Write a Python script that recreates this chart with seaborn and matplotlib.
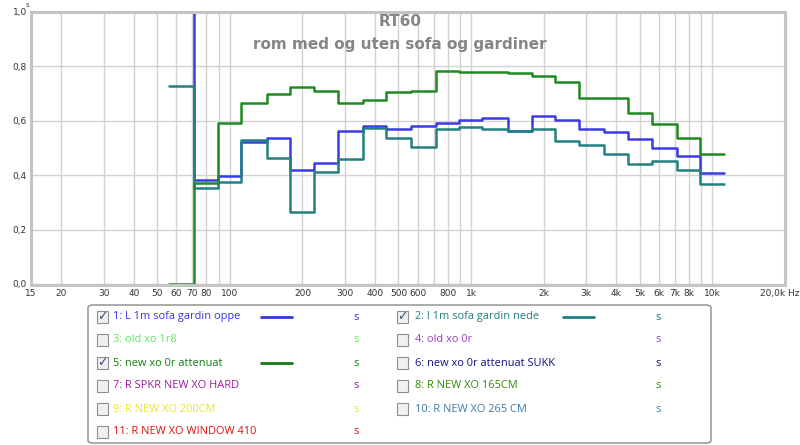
import matplotlib
matplotlib.use("Agg")
import matplotlib.pyplot as plt
import matplotlib.transforms as mtransforms
from matplotlib.patches import FancyBboxPatch, Rectangle
from matplotlib.lines import Line2D
import numpy as np
import pandas as pd
import seaborn as sns

# 1/3-octave band centres (Hz)
bands = [63, 80, 100, 125, 160, 200, 250, 315, 400, 500, 630, 800,
         1000, 1250, 1600, 2000, 2500, 3150, 4000, 5000, 6300, 8000, 10000]

# RT60 per band (s)
rt_oppe = [1.60, 0.382, 0.397, 0.523, 0.535, 0.419, 0.443, 0.562, 0.582, 0.571, 0.579, 0.590,
           0.601, 0.612, 0.564, 0.619, 0.601, 0.568, 0.558, 0.534, 0.501, 0.469, 0.409]
rt_nede = [0.729, 0.353, 0.376, 0.531, 0.462, 0.264, 0.410, 0.460, 0.573, 0.536, 0.502, 0.571,
           0.576, 0.569, 0.564, 0.570, 0.525, 0.510, 0.479, 0.440, 0.453, 0.419, 0.369]
rt_attenuat = [0.0, 0.372, 0.592, 0.665, 0.700, 0.723, 0.711, 0.664, 0.678, 0.706, 0.711, 0.784,
               0.781, 0.779, 0.776, 0.763, 0.741, 0.684, 0.685, 0.629, 0.589, 0.535, 0.479]

xticks = [15, 20, 30, 40, 50, 60, 70, 80, 90, 100, 200, 300, 400, 500, 600, 700, 800, 900,
          1000, 2000, 3000, 4000, 5000, 6000, 7000, 8000, 9000, 10000, 20000]
xticklabels = ["15", "20", "30", "40", "50", "60", "70", "80", "", "100", "200", "300", "400",
               "500", "600", "", "800", "", "1k", "2k", "3k", "4k", "5k", "6k", "7k", "8k", "",
               "10k", "20,0k Hz"]
yticks = [0.0, 0.2, 0.4, 0.6, 0.8, 1.0]
yticklabels = ["0,0", "0,2", "0,4", "0,6", "0,8", "1,0"]

legend_items = [
    ("1: L 1m sofa gardin oppe", "#3535dd", True),
    ("2: l 1m sofa gardin nede", "#1f7f7f", True),
    ("3: old xo 1r8", "#5ee65e", False),
    ("4: old xo 0r", "#9a3cc0", False),
    ("5: new xo 0r attenuat", "#137a13", True),
    ("6: new xo 0r attenuat SUKK", "#101080", False),
    ("7: R SPKR NEW XO HARD", "#9a1a9a", False),
    ("8: R NEW XO 165CM", "#2e8a00", False),
    ("9: R NEW XO 200CM", "#e8e820", False),
    ("10: R NEW XO 265 CM", "#3a7aaa", False),
    ("11: R NEW XO WINDOW 410", "#dd1010", False),
]

series = [
    ("oppe", rt_oppe, "#3a3ae6"),
    ("nede", rt_nede, "#228080"),
    ("attenuat", rt_attenuat, "#1f8a1f"),
]

sns.set_theme(style="white")
plt.rcParams["font.family"] = ["DejaVu Sans"]

fig = plt.figure(figsize=(8.0, 4.45), dpi=100)
ax = fig.add_axes([31 / 800, 1 - 285 / 445, 754 / 800, 273 / 445])

lower = [f / 2 ** (1 / 6) for f in bands]
for name, vals, col in series:
    d = pd.DataFrame({"f": lower + [bands[-1] * 2 ** (1 / 6)], "rt": list(vals) + [vals[-1]]})
    sns.lineplot(data=d, x="f", y="rt", ax=ax, color=col, lw=1.8,
                 drawstyle="steps-post", estimator=None, sort=False, legend=False)

ax.set_xscale("log")
ax.set_xlim(15, 20000)
ax.set_ylim(-0.004, 1.0)
ax.set_xticks(xticks)
ax.set_xticklabels(xticklabels)
ax.xaxis.set_minor_locator(matplotlib.ticker.NullLocator())
ax.set_yticks(yticks)
ax.set_yticklabels(yticklabels)
ax.tick_params(length=0, labelsize=6.5, labelcolor="#333333", pad=3)
ax.set_xlabel("")
ax.set_ylabel("")
ax.grid(True, color="#d2d2d2", lw=1.0)
ax.set_axisbelow(True)
for s in ax.spines.values():
    s.set_color("#c4c4c4")
    s.set_linewidth(2.2)

# nudge the last tick label left like the original
lbl = ax.get_xticklabels()[-1]
lbl.set_transform(lbl.get_transform() + mtransforms.ScaledTranslation(-5 / 100, 0, fig.dpi_scale_trans))

fig.text(27 / 800, 1 - 5 / 445, "s", fontsize=5, color="#333333", ha="center", va="center")

fig.text(400 / 800, 1 - 22 / 445, "RT60", fontsize=11, fontweight="bold",
         color="#858585", ha="center", va="center")
fig.text(400 / 800, 1 - 44 / 445, "rom med og uten sofa og gardiner", fontsize=11,
         fontweight="bold", color="#858585", ha="center", va="center")

# legend panel
W, H = 800, 445
box = FancyBboxPatch((88 / W, 1 - 443 / H), 623 / W, 138 / H,
                     boxstyle="round,pad=0,rounding_size=0.006", transform=fig.transFigure,
                     facecolor="white", edgecolor="#8a8a8a", lw=1.0)
fig.add_artist(box)

sample_cols = {0: "#3535dd", 1: "#1f7f7f", 4: "#137a13"}
for i, (label, col, checked) in enumerate(legend_items):
    row, colno = divmod(i, 2)
    yc = 317 + row * 23
    cx = 97 if colno == 0 else 397
    fig.add_artist(Rectangle((cx / W, 1 - (yc + 6) / H), 11 / W, 12 / H, transform=fig.transFigure,
                             facecolor="#f0f0f0", edgecolor="#8f8f8f", lw=0.8))
    if checked:
        fig.text((cx + 5.5) / W, 1 - yc / H, "\u2713", fontsize=9, color="#3a4a8a",
                 ha="center", va="center", fontweight="bold")
    tx = 113 if colno == 0 else 415
    fig.text(tx / W, 1 - yc / H, label, fontsize=7.9, color=col, ha="left", va="center",
             family=["Open Sans", "DejaVu Sans"])
    sx = 356 if colno == 0 else 658
    fig.text(sx / W, 1 - yc / H, "s", fontsize=7.9, color=col, ha="center", va="center",
             family=["Open Sans", "DejaVu Sans"])
    if i in sample_cols:
        lx0, lx1 = (261, 292) if colno == 0 else (563, 594)
        fig.add_artist(Line2D([lx0 / W, lx1 / W], [1 - yc / H, 1 - yc / H],
                              transform=fig.transFigure, color=sample_cols[i], lw=2))

fig.savefig("out.png", dpi=100, facecolor="white")
